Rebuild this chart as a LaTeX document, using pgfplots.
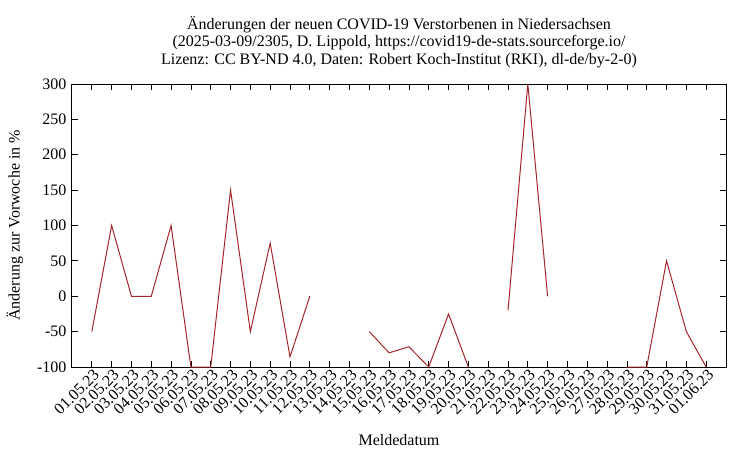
\documentclass[border=0pt]{standalone}
\usepackage{fontspec}
\setmainfont{Liberation Serif}
\usepackage{pgfplots}
\pgfplotsset{compat=1.18}
\definecolor{rkired}{RGB}{165,38,42}

\begin{document}
\begin{tikzpicture}[font=\fontsize{16}{17}\selectfont]
\useasboundingbox (-72pt,-83pt) rectangle (678pt,367pt);
\begin{axis}[
    at={(0,0)}, anchor=south west,
    scale only axis,
    width=654pt, height=283pt,
    xmin=-1, xmax=32,
    ymin=-100, ymax=300,
    ytick={-100,-50,...,300},
    xtick={0,...,31},
    xticklabels={01.05.23,02.05.23,03.05.23,04.05.23,05.05.23,06.05.23,07.05.23,08.05.23,09.05.23,10.05.23,11.05.23,12.05.23,13.05.23,14.05.23,15.05.23,16.05.23,17.05.23,18.05.23,19.05.23,20.05.23,21.05.23,22.05.23,23.05.23,24.05.23,25.05.23,26.05.23,27.05.23,28.05.23,29.05.23,30.05.23,31.05.23,01.06.23},
    x tick label style={rotate=45, anchor=east, xshift=3pt, yshift=-7pt},
    y tick label style={xshift=-2pt},
    /pgf/number format/assume math mode=true,
    tick align=inside,
    major tick length=6pt,
    tick style={black, line width=0.8pt},
    axis line style={line width=1pt},
    unbounded coords=jump,
    title={Änderungen der neuen COVID-19 Verstorbenen in Niedersachsen\\(2025-03-09/2305, D. Lippold, https://covid19-de-stats.sourceforge.io/\\Lizenz: CC BY-ND 4.0, Daten: Robert Koch-Institut (RKI), dl-de/by-2-0)},
    title style={align=center, at={(axis description cs:0.5,1)}, anchor=center, yshift=36pt, font=\fontsize{16}{17.5}\selectfont},
    xlabel={Meldedatum},
    xlabel style={at={(axis description cs:0.5,0)}, anchor=center, yshift=-73pt},
    ylabel={Änderung zur Vorwoche in \%},
    ylabel style={at={(axis description cs:-0.0872,0.5)}, anchor=center},
]
\addplot[rkired, line width=1pt] coordinates {
(0,-50) (1,100) (2,0) (3,0) (4,100) (5,-100) (6,-100) (7,150) (8,-50) (9,75)
(10,-85.7) (11,0) (12,nan) (13,nan) (14,-50) (15,-80) (16,-71.4) (17,-100)
(18,-25) (19,-100) (20,nan) (21,-20) (22,300) (23,0) (24,nan) (25,nan) (26,nan)
(27,-100) (28,-100) (29,50) (30,-50) (31,-100)
};
\end{axis}
\end{tikzpicture}
\end{document}
